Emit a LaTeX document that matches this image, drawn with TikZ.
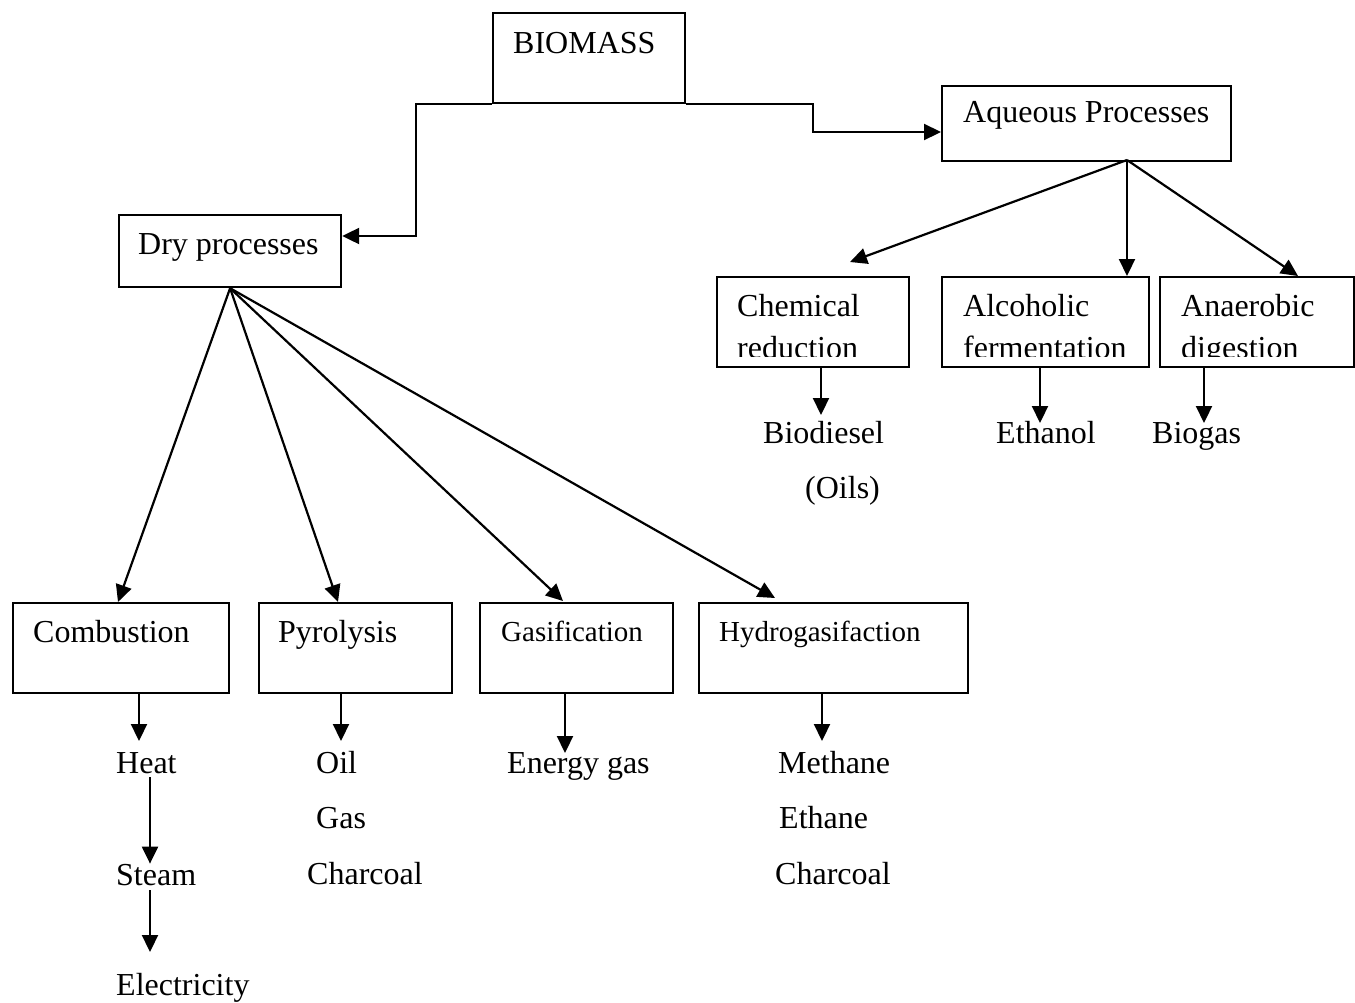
\documentclass[tikz,border=0pt]{standalone}
\usepackage{fontspec}
\setmainfont{Liberation Serif}
\usetikzlibrary{arrows.meta}
\tikzset{
  box/.style={draw, line width=2.2pt, rectangle, anchor=north west, inner sep=0pt},
  lbl/.style={anchor=base west, inner sep=0pt, font=\fontsize{32}{38}\selectfont},
  lbls/.style={anchor=base west, inner sep=0pt, font=\fontsize{29}{34}\selectfont},
  arr/.style={line width=2.2pt, -{Triangle[length=17pt,width=16pt]}},
  conn/.style={line width=2.2pt},
}
\begin{document}
\begin{tikzpicture}[x=1pt,y=-1pt]
\useasboundingbox (0,0) rectangle (1355,1002);
% boxes
\node[box, minimum width=192pt, minimum height=90pt] (bio) at (492,12) {};
\node[box, minimum width=289pt, minimum height=75pt] (aq) at (941,85) {};
\node[box, minimum width=222pt, minimum height=72pt] (dry) at (118,214) {};
\node[box, minimum width=192pt, minimum height=90pt] (chem) at (716,276) {};
\node[box, minimum width=207pt, minimum height=90pt] (alc) at (941,276) {};
\node[box, minimum width=194pt, minimum height=90pt] (ana) at (1159,276) {};
\node[box, minimum width=216pt, minimum height=90pt] (comb) at (12,602) {};
\node[box, minimum width=193pt, minimum height=90pt] (pyro) at (258,602) {};
\node[box, minimum width=193pt, minimum height=90pt] (gasi) at (479,602) {};
\node[box, minimum width=269pt, minimum height=90pt] (hydro) at (698,602) {};
% box labels
\node[lbl] (tbio) at (513,53) {BIOMASS};
\node[lbl] (taq) at (963,122) {Aqueous Processes};
\node[lbl] (tdry) at (138,254) {Dry processes};
\node[lbl] (tchem) at (737,316) {Chemical};
\node[lbl] (talc) at (963,316) {Alcoholic};
\node[lbl] (tana) at (1181,316) {Anaerobic};
\begin{scope}
\clip (700,320) rectangle (1355,356);
\node[lbl] (tchem2) at (737,358) {reduction};
\node[lbl] (talc2) at (963,358) {fermentation};
\node[lbl] (tana2) at (1181,358) {digestion};
\end{scope}
\node[lbl] (tcomb) at (33,642) {Combustion};
\node[lbl] (tpyro) at (278,642) {Pyrolysis};
\node[lbls] (tgasi) at (501,641) {Gasification};
\node[lbls] (thydro) at (719,641) {Hydrogasifaction};
% products
\node[lbl] (heat) at (116,773) {Heat};
\node[lbl] (steam) at (116,885) {Steam};
\node[lbl] (elec) at (116,995) {Electricity};
\node[lbl] (oil) at (316,773) {Oil};
\node[lbl] (gas) at (316,828) {Gas};
\node[lbl] (char1) at (307,884) {Charcoal};
\node[lbl] (egas) at (507,773) {Energy gas};
\node[lbl] (meth) at (778,773) {Methane};
\node[lbl] (eth) at (779,828) {Ethane};
\node[lbl] (char2) at (775,884) {Charcoal};
\node[lbl] (biod) at (763,443) {Biodiesel};
\node[lbl] (oils) at (805,498) {(Oils)};
\node[lbl] (ethan) at (996,443) {Ethanol};
\node[lbl] (biog) at (1152,443) {Biogas};
% coordinates
\coordinate (jl) at (416,236);
\coordinate (jr) at (813,132);
\coordinate (aqo) at (1127,160);
\coordinate (tchemin) at (850,262);
\coordinate (talcin) at (1127,276);
\coordinate (tanain) at (1298,276);
\coordinate (tcombin) at (118,602);
\coordinate (tpyroin) at (338,602);
\coordinate (tgasiin) at (563,601);
\coordinate (thydroin) at (775,598);
% main connectors
\draw[arr] (bio.south west) -| (jl) -- (jl -| dry.east);
\draw[arr] (bio.south east) -| (jr) -- (jr -| aq.west);
% dry fan
\draw[arr] (dry.south) -- (tcombin);
\draw[arr] (dry.south) -- (tpyroin);
\draw[arr] (dry.south) -- (tgasiin);
\draw[arr] (dry.south) -- (thydroin);
% aqueous fan
\draw[arr] (aqo) -- (tchemin);
\draw[arr] (aqo) -- (talcin);
\draw[arr] (aqo) -- (tanain);
% down arrows
\draw[arr] (comb.south -| 139,0) -- (139,741);
\draw[arr] (pyro.south -| 341,0) -- (341,741);
\draw[arr] (gasi.south -| 565,0) -- (565,753);
\draw[arr] (hydro.south -| 822,0) -- (822,741);
\draw[arr] (chem.south -| 821,0) -- (821,415);
\draw[arr] (alc.south -| 1040,0) -- (1040,423);
\draw[arr] (ana.south -| 1204,0) -- (1204,423);
\draw[arr] (150,777) -- (steam.north -| 150,0);
\draw[arr] (150,890) -- (150,952);
\end{tikzpicture}
\end{document}
